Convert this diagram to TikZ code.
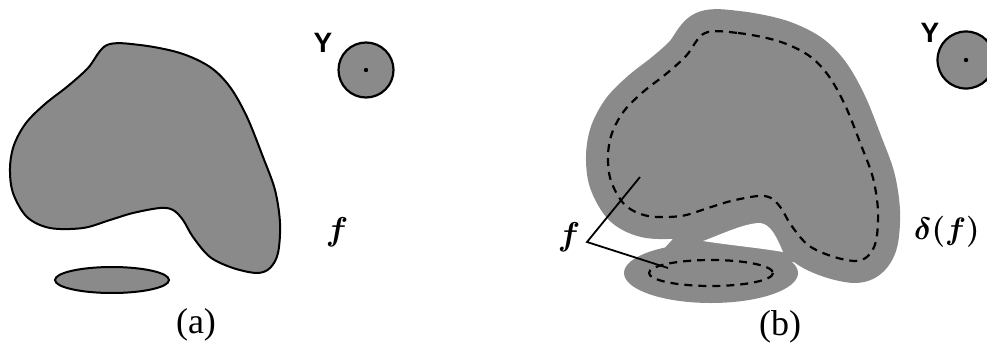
\RequirePackage{fix-cm}
\documentclass[tikz,border=0pt]{standalone}
\usepackage{fontspec}
\setmainfont{Liberation Serif}
\newfontfamily\ysans{Liberation Sans}
\begin{document}
\begin{tikzpicture}[x=1pt,y=-1pt,
  blobfill/.style={fill=blobgray, draw=black, line width=2pt},
  dilate/.style={fill=blobgray, draw=blobgray, line width=44pt, line join=round},
  dashline/.style={draw=black, line width=2.2pt, dash pattern=on 8pt off 6pt},
  ylabel/.style={font=\ysans\bfseries\fontsize{28}{32}\selectfont, inner sep=0pt},
  flabel/.style={font=\fontsize{33}{38}\selectfont\boldmath, inner sep=0pt},
  dlabel/.style={font=\fontsize{31}{36}\selectfont\boldmath, inner sep=0pt},
  caplabel/.style={font=\fontsize{36}{40}\selectfont, inner sep=0pt},
  pointer/.style={draw=black, line width=1.8pt, line join=miter},
  ring/.style={fill=blobgray, draw=black, line width=2.2pt}]
\definecolor{blobgray}{RGB}{138,138,138}
\def\shapeA{(107,45)(140,45)(180,53)(210,67)(230,87)(247,117)(263,157)(275,190)(280,223)(278,253)(270,268)(257,273)(233,268)(210,257)(193,237)(183,220)(173,210)(160,208)(133,213)(110,220)(83,228)(50,228)(27,217)(13,193)(10,168)(14,145)(26,123)(45,104)(68,86)(88,68)}
\useasboundingbox (0,0) rectangle (987,343);
% ---------- (a)
\path[blobfill] plot[smooth cycle, tension=0.55] coordinates {\shapeA};
\path[blobfill] (112,280) ellipse [x radius=57, y radius=13];
\node[ring, circle, minimum size=55pt, inner sep=0pt] (ya) at (366,70) {};
\fill (ya.center) circle (2.2);
\node[ylabel] (yla) at (323,43) {Y};
\node[flabel] (fa) at (337,232) {$f$};
\node[caplabel] (capa) at (196,325) {(a)};
% ---------- (b)
\begin{scope}[shift={(598,-12)}]
  \path[dilate] plot[smooth cycle, tension=0.55] coordinates {\shapeA};
\end{scope}
\fill[blobgray] (711,273) ellipse [x radius=87, y radius=30];
\fill[blobgray] (662,251) -- (681,230) -- (708,215) -- (731,208) -- (758,203)
  -- (785,215) -- (800,235) -- (800,262) -- (662,262) -- cycle;
\fill[white] (703,241) .. controls (722,234) and (745,223) .. (760,223)
  .. controls (771,224) and (777,238) .. (783,252)
  .. controls (760,248) and (728,245) .. cycle;
\begin{scope}[shift={(598,-12)}]
  \path[dashline] plot[smooth cycle, tension=0.55] coordinates {\shapeA};
\end{scope}
\path[dashline] (711,273) ellipse [x radius=62, y radius=13];
\node[ring, circle, minimum size=57pt, inner sep=0pt] (yb) at (966,60) {};
\fill (yb.center) circle (2.2);
\node[ylabel] (ylb) at (930,33) {Y};
\node[dlabel, anchor=west] (db) at (914,232) {$\delta(f)$};
\node[flabel] (fb) at (569,237) {$f$};
\coordinate (v) at (587,242);
\coordinate (p1) at (640,177);
\coordinate (p2) at (668,268);
\draw[pointer] (p1) -- (v) -- (p2);
\node[caplabel] (capb) at (780,327) {(b)};
\end{tikzpicture}
\end{document}
